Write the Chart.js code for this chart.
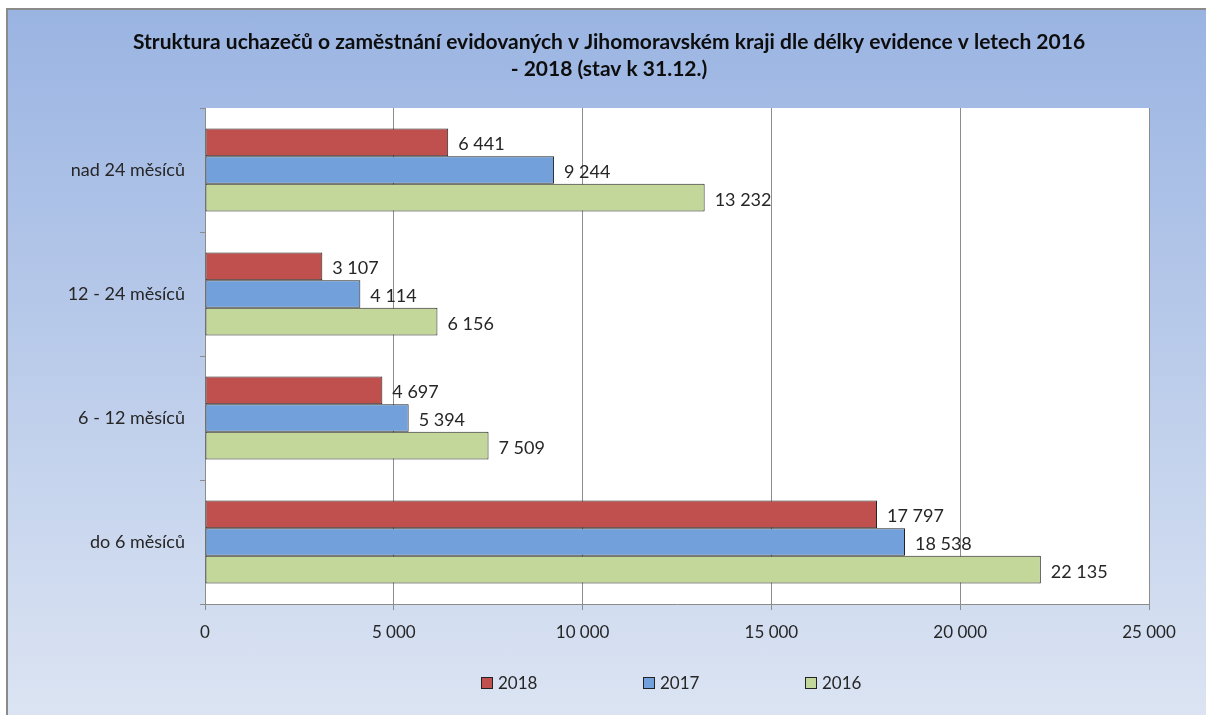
<!DOCTYPE html>
<html><head><meta charset="utf-8">
<script src="https://cdn.jsdelivr.net/npm/chart.js@4"></script>
<style>
html,body{margin:0;padding:0;background:#fff;width:1206px;height:715px;overflow:hidden;}
#frame{position:absolute;left:6px;top:8px;width:1210px;height:720px;border-left:2px solid #8a8a8a;border-top:2px solid #8a8a8a;background:linear-gradient(to bottom,#9ab4e2 0%,#dde5f3 100%);}
#wrap{position:absolute;left:0;top:0;width:1206px;height:715px;}
#legend{position:absolute;top:673px;left:0;width:1206px;height:22px;font:17px Lato, sans-serif;color:#262626;}
.item{position:absolute;top:0;display:flex;align-items:center;line-height:20px;}
.box{width:10px;height:10px;border:1px solid #222;margin-right:5px;}
</style></head>
<body>
<div id="frame"></div>
<div id="wrap"><canvas id="c" width="1206" height="715"></canvas></div>
<div id="legend"></div>
<script>
const categories = ['nad 24 měsíců', '12 - 24 měsíců', '6 - 12 měsíců', 'do 6 měsíců'];
const seriesNames = ['2018', '2017', '2016'];
const values2018 = [6441, 3107, 4697, 17797];
const values2017 = [9244, 4114, 5394, 18538];
const values2016 = [13232, 6156, 7509, 22135];
const seriesColors = ['#c0504d', '#72a0da', '#c4d79b'];
const xMin = 0, xMax = 25000, xStep = 5000;
const titleLines = ['Struktura uchazečů o zaměstnání evidovaných v Jihomoravském kraji dle délky evidence v letech 2016', '- 2018 (stav k 31.12.)'];

const fmt = n => String(n).replace(/\B(?=(\d{3})+(?!\d))/g, ' ');
const seriesValues = [values2018, values2017, values2016];

const labelPlugin = {
  id: 'barLabels',
  afterDatasetsDraw(chart) {
    const ctx = chart.ctx;
    ctx.save();
    ctx.font = '18px Lato, sans-serif';
    ctx.fillStyle = '#262626';
    ctx.textBaseline = 'middle';
    ctx.textAlign = 'left';
    chart.data.datasets.forEach((ds, di) => {
      chart.getDatasetMeta(di).data.forEach((bar, i) => {
        ctx.fillText(fmt(ds.data[i]), bar.x + 10, bar.y + 2);
      });
    });
    ctx.restore();
  }
};

new Chart(document.getElementById('c'), {
  type: 'bar',
  data: {
    labels: categories,
    datasets: seriesNames.map((name, i) => ({
      label: name,
      data: seriesValues[i],
      backgroundColor: seriesColors[i],
      borderColor: '#222222',
      borderWidth: 1,
      borderSkipped: false,
      categoryPercentage: 0.67,
      barPercentage: 1.0
    }))
  },
  options: {
    indexAxis: 'y',
    responsive: false,
    animation: false,
    layout: { padding: { left: 69, right: 57, top: 0, bottom: 0 } },
    plugins: {
      legend: { display: false },
      tooltip: { enabled: false },
      title: {
        display: true,
        text: titleLines,
        color: '#0d0d0d',
        font: { family: 'Lato, sans-serif', size: 21, weight: 'bold', lineHeight: 27 / 21 },
        padding: { top: 29, bottom: 25 }
      }
    },
    scales: {
      x: {
        type: 'linear',
        position: 'bottom',
        min: xMin, max: xMax,
        ticks: { stepSize: xStep, color: '#262626', font: { family: 'Lato, sans-serif', size: 17 }, padding: 12, callback: v => fmt(v), maxRotation: 0 },
        grid: { color: '#8c8c8c', lineWidth: 1, tickLength: 6, drawTicks: true },
        border: { color: '#8c8c8c', width: 1 },
        afterFit: s => { s.height = 111; }
      },
      y: {
        type: 'category',
        ticks: { color: '#262626', font: { family: 'Lato, sans-serif', size: 18 }, padding: 15 },
        grid: { drawOnChartArea: false, offset: true, tickLength: 5, color: '#8c8c8c' },
        border: { color: '#8c8c8c', width: 1 },
        afterFit: s => { s.width = 136; }
      }
    }
  },
  plugins: [labelPlugin, {
    id: 'plotBg',
    beforeDraw(chart) {
      const a = chart.chartArea, ctx = chart.ctx;
      ctx.save(); ctx.fillStyle = '#ffffff';
      ctx.fillRect(a.left, a.top, a.right - a.left, a.bottom - a.top);
      ctx.restore();
    }
  }]
});

const legend = document.getElementById('legend');
seriesNames.forEach((name, i) => {
  const it = document.createElement('div');
  it.className = 'item';
  it.style.left = (481 + i * 162) + 'px';
  const b = document.createElement('span');
  b.className = 'box';
  b.style.background = seriesColors[i];
  const t = document.createElement('span');
  t.textContent = name;
  it.appendChild(b); it.appendChild(t);
  legend.appendChild(it);
});
</script>
</body></html>
